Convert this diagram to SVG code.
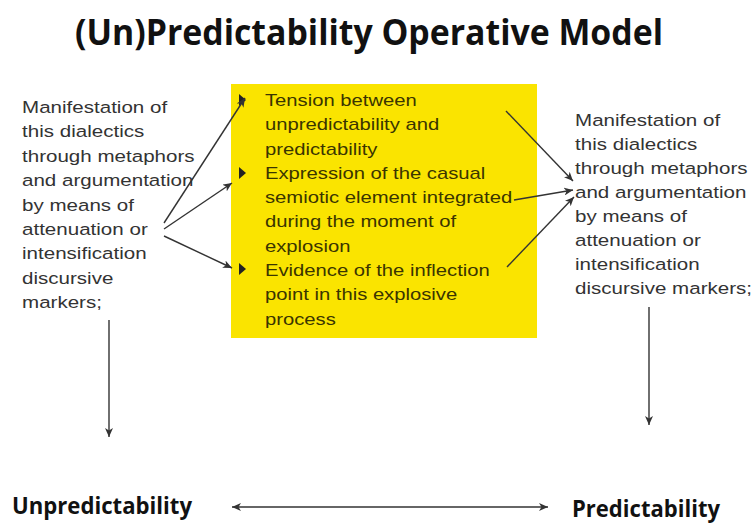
<svg xmlns="http://www.w3.org/2000/svg" width="752" height="523" viewBox="0 0 752 523">
<style>
.title{font-family:"Open Sans","Liberation Sans",sans-serif;font-weight:bold;fill:#111}
.body{font-family:"Liberation Sans",Arial,sans-serif;font-size:17px;fill:#333}
.ybody{font-family:"Liberation Sans",Arial,sans-serif;font-size:17px;fill:#3a3500}
.conn{stroke:#333;stroke-width:1.4;fill:none}
</style>
<defs>
<marker id="ah" markerWidth="10" markerHeight="8" refX="9" refY="4" orient="auto" markerUnits="userSpaceOnUse">
<path d="M0,0 L9,4 L0,8 L2.5,4 Z" fill="#333"/>
</marker>
<marker id="ahs" markerWidth="10" markerHeight="8" refX="1" refY="4" orient="auto" markerUnits="userSpaceOnUse">
<path d="M10,0 L1,4 L10,8 L7.5,4 Z" fill="#333"/>
</marker>
</defs>
<rect width="752" height="523" fill="#fff"/>
<g id="title">
<text class="title" x="75" y="45" font-size="36" textLength="588" lengthAdjust="spacingAndGlyphs">(Un)Predictability Operative Model</text>
</g>
<g id="center-box">
<rect x="231" y="84" width="306" height="254" fill="#FAE400"/>
<path d="M239,94 L246,100 L239,106 Z" fill="#222"/>
<path d="M239,167 L246,173 L239,179 Z" fill="#222"/>
<path d="M239,263 L246,269 L239,275 Z" fill="#222"/>
<g transform="translate(265,0) scale(1.19,1)">
<text class="ybody" x="0" y="106">Tension between</text>
<text class="ybody" x="0" y="130.3">unpredictability and</text>
<text class="ybody" x="0" y="154.6">predictability</text>
<text class="ybody" x="0" y="178.9">Expression of the casual</text>
<text class="ybody" x="0" y="203.2">semiotic element integrated</text>
<text class="ybody" x="0" y="227.5">during the moment of</text>
<text class="ybody" x="0" y="251.8">explosion</text>
<text class="ybody" x="0" y="276.1">Evidence of the inflection</text>
<text class="ybody" x="0" y="300.4">point in this explosive</text>
<text class="ybody" x="0" y="324.7">process</text>
</g>
</g>
<g id="left-text">
<g transform="translate(22,0) scale(1.21,1)">
<text class="body" x="0" y="113">Manifestation of</text>
<text class="body" x="0" y="137.4">this dialectics</text>
<text class="body" x="0" y="161.8">through metaphors</text>
<text class="body" x="0" y="186.2">and argumentation</text>
<text class="body" x="0" y="210.6">by means of</text>
<text class="body" x="0" y="235">attenuation or</text>
<text class="body" x="0" y="259.4">intensification</text>
<text class="body" x="0" y="283.8">discursive</text>
<text class="body" x="0" y="308.2">markers;</text>
</g>
</g>
<g id="right-text">
<g transform="translate(575,0) scale(1.21,1)">
<text class="body" x="0" y="126">Manifestation of</text>
<text class="body" x="0" y="150">this dialectics</text>
<text class="body" x="0" y="174">through metaphors</text>
<text class="body" x="0" y="198">and argumentation</text>
<text class="body" x="0" y="222">by means of</text>
<text class="body" x="0" y="246">attenuation or</text>
<text class="body" x="0" y="270">intensification</text>
<text class="body" x="0" y="294">discursive markers;</text>
</g>
</g>
<g id="unpredictability">
<text class="title" x="12" y="514" font-size="24" textLength="180" lengthAdjust="spacingAndGlyphs">Unpredictability</text>
</g>
<g id="predictability">
<text class="title" x="572" y="517" font-size="24" textLength="148" lengthAdjust="spacingAndGlyphs">Predictability</text>
</g>
<g id="connectors">
<line class="conn" x1="164" y1="223" x2="245" y2="98" marker-end="url(#ah)"/>
<line class="conn" x1="164" y1="229" x2="232" y2="183" marker-end="url(#ah)"/>
<line class="conn" x1="164" y1="236" x2="232" y2="268" marker-end="url(#ah)"/>
<line class="conn" x1="506" y1="111" x2="573" y2="181" marker-end="url(#ah)"/>
<line class="conn" x1="514" y1="200" x2="573" y2="190" marker-end="url(#ah)"/>
<line class="conn" x1="507" y1="267" x2="574" y2="197" marker-end="url(#ah)"/>
<line class="conn" x1="109" y1="320" x2="109" y2="437" marker-end="url(#ah)"/>
<line class="conn" x1="649" y1="307" x2="649" y2="425" marker-end="url(#ah)"/>
<line class="conn" x1="232" y1="507" x2="548" y2="507" stroke-width="1.8" marker-start="url(#ahs)" marker-end="url(#ah)"/>
</g>
</svg>
